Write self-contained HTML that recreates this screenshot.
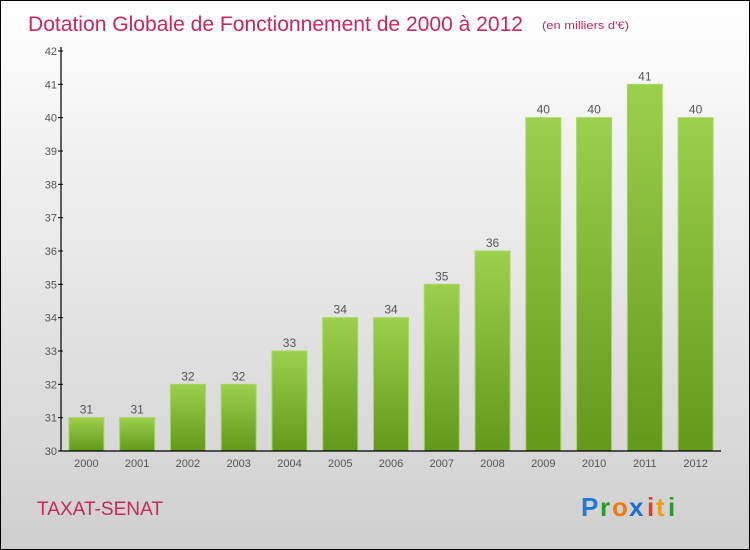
<!DOCTYPE html>
<html><head><meta charset="utf-8"><style>
body{margin:0;}
#c{width:750px;height:550px;position:relative;box-sizing:border-box;border:1px solid #000;background:linear-gradient(#fff 0%,#f2f2f2 25%,#cfcfcf 100%);font-family:"Liberation Sans",sans-serif;overflow:hidden;}
</style></head><body>
<div id="c">
<svg id="s" width="750" height="550" style="position:absolute;left:0;top:0">
<defs><linearGradient id="g" x1="0" y1="0" x2="0" y2="1"><stop offset="0" stop-color="#9cd04c"/><stop offset="1" stop-color="#62991a"/></linearGradient></defs>
<text x="27" y="30" font-size="21" fill="#c8285a" textLength="495" lengthAdjust="spacingAndGlyphs">Dotation Globale de Fonctionnement de 2000 à 2012</text>
<text x="541" y="28" font-size="11" fill="#c8285a" textLength="87" lengthAdjust="spacingAndGlyphs">(en milliers d'€)</text>
<text x="36" y="514" font-size="19" fill="#c8285a" textLength="126" lengthAdjust="spacingAndGlyphs">TAXAT-SENAT</text>
<g font-size="26" font-weight="bold"><text x="580" y="515" fill="#1f7ad6">P</text><text x="599" y="515" fill="#2a9a2a">r</text><text x="611" y="515" fill="#f07a10">o</text><text x="628" y="515" fill="#1f6ad6">x</text><text x="646" y="515" fill="#e03a2a">i</text><text x="655" y="515" fill="#f0a010">t</text><text x="667" y="515" fill="#2a9a2a">i</text></g>
<g id="plot"></g>
</svg>
</div>
<script>
const years=["2000","2001","2002","2003","2004","2005","2006","2007","2008","2009","2010","2011","2012"];
const values=[31,31,32,32,33,34,34,35,36,40,40,41,40];
const yTicks=[30,31,32,33,34,35,36,37,38,39,40,41,42];
const ns="http://www.w3.org/2000/svg";
const p=document.getElementById('plot');
const X0=60,X1=720,Y0=450,Y1=50,ymin=30,ymax=42;
const bw=(X1-X0)/years.length;
const y=v=>Y0-(v-ymin)/(ymax-ymin)*(Y0-Y1);
const xc=i=>X0+bw*(i+0.5);
function mk(t,a){const e=document.createElementNS(ns,t);for(const k in a)e.setAttribute(k,a[k]);p.appendChild(e);return e;}
values.forEach((v,i)=>{
 const r=mk('rect',{x:xc(i)-17.5,y:y(v),width:35,height:Y0-y(v),fill:'url(#g)',stroke:'#a8d860','stroke-width':1});
 
 
 const t=mk('text',{x:xc(i),y:y(v)-4,'text-anchor':'middle','font-size':12,fill:'#555'});t.textContent=v;
 
 
 const xl=mk('text',{x:xc(i),y:466,'text-anchor':'middle','font-size':11,fill:'#555'});xl.textContent=years[i];
 
 
});
yTicks.forEach(v=>{
 mk('line',{x1:X0-3,x2:X0+2,y1:y(v),y2:y(v),stroke:'#000'});
 const t=mk('text',{x:X0-4,y:y(v)+4,'text-anchor':'end','font-size':11,fill:'#555'});t.textContent=v;
 
 
});
const ya=mk('line',{x1:X0,x2:X0,y1:Y1-4,y2:Y0,stroke:'#000','stroke-width':1.2});


const xa=mk('line',{x1:X0,x2:X1,y1:Y0,y2:Y0,stroke:'#000','stroke-width':1.2});


</script>
</body></html>
